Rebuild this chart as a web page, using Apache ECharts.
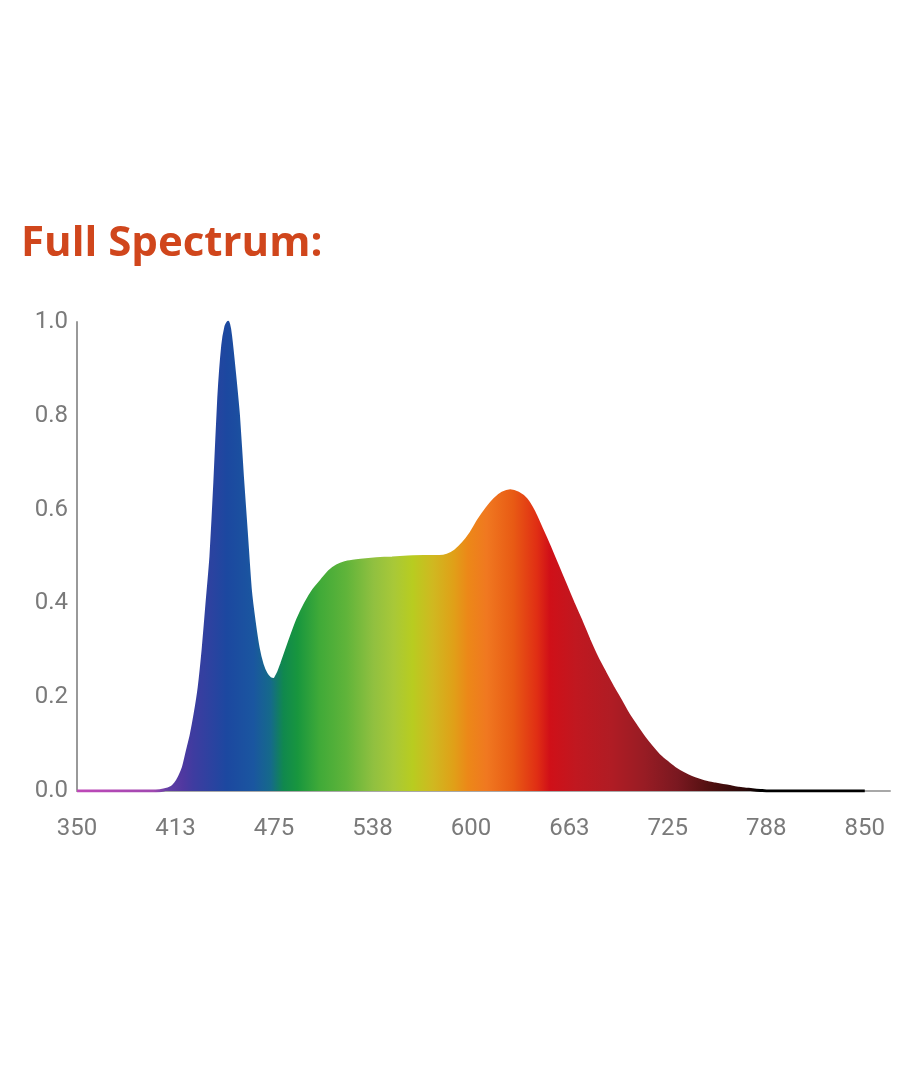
<!DOCTYPE html>
<html>
<head>
<meta charset="utf-8">
<script src="https://cdn.jsdelivr.net/npm/echarts@6/dist/echarts.min.js"></script>
<style>
html,body{margin:0;padding:0;background:#fff;}
#c{width:910px;height:1080px;}
</style>
</head>
<body>
<div id="c"></div>
<script>
// wavelength (nm) and relative intensity
const wavelengths = [350,360,370,380,390,400,405,410,412.5,415,417.5,420,422.5,425,427.5,430,432.5,435,437.5,440,442.5,444.5,446,447.5,450,452.5,455,457.5,460,462.5,465,467.5,470,472.5,475,477.5,480,485,490,495,500,505,510,515,520,525,530,540,550,560,570,580,585,590,595,600,605,610,615,620,625,630,635,640,645,650,655,660,665,670,675,680,685,690,695,700,705,710,715,720,725,730,735,740,745,750,755,760,765,770,775,780,785,790,800,820,850];
const intensity  = [0,0,0,0,0,0,0.002,0.008,0.016,0.03,0.05,0.085,0.12,0.165,0.22,0.30,0.40,0.50,0.66,0.84,0.95,0.99,1.0,0.97,0.89,0.80,0.67,0.55,0.43,0.36,0.305,0.27,0.25,0.24,0.238,0.25,0.272,0.32,0.365,0.40,0.428,0.448,0.468,0.48,0.487,0.49,0.492,0.495,0.497,0.499,0.50,0.50,0.503,0.512,0.528,0.55,0.578,0.602,0.622,0.635,0.64,0.635,0.622,0.595,0.558,0.52,0.48,0.44,0.40,0.362,0.322,0.285,0.253,0.222,0.193,0.163,0.138,0.114,0.093,0.074,0.06,0.047,0.037,0.029,0.023,0.018,0.015,0.012,0.009,0.006,0.004,0.002,0.001,0,0,0,0];
const xTickLabels = ['350','413','475','538','600','663','725','788','850'];
const yTickLabels = ['0.0','0.2','0.4','0.6','0.8','1.0'];
// spectrum colour stops (wavelength, colour)
const stopNm     = [350,400,409,417,424,445,462,473,481,490,504,521,538,551,563,576,589,598,610,627,642,650,667,689,710,731,752,773,782,850];
const stopColors = ['#c048b8','#a048b0','#603ea4','#5038a0','#3e3ca0','#1c48a0','#1a56a0','#156a8a','#10884e','#18963e','#40aa38','#60b43a','#90c040','#a8c838','#b8cc20','#d0b820','#e0a018','#ec8818','#f07820','#e85a14','#e02e14','#d01018','#c01820','#b01c24','#981c24','#7a1820','#501010','#2a0808','#000000','#000000'];

const seriesData = wavelengths.map((w,i)=>[w,intensity[i]]);
const xMin = 350, xMax = 850;
const grad = () => new echarts.graphic.LinearGradient(0,0,1,0,
  stopNm.map((w,i)=>({offset:(w-xMin)/(xMax-xMin), color:stopColors[i]})));

const chart = echarts.init(document.getElementById('c'), null, {renderer:'canvas'});
chart.setOption({
  animation:false,
  backgroundColor:'#ffffff',
  title:{
    text:'Full Spectrum:',
    left:16, top:218,
    textStyle:{fontFamily:'Open Sans', fontWeight:'bold', fontSize:42, color:'#d0461c'}
  },
  grid:{left:77, right:20, top:322, bottom:289, containLabel:false},
  xAxis:{
    type:'value', min:350, max:866, interval:62.5,
    axisLine:{show:true, lineStyle:{color:'#a8a8a8', width:2}},
    axisTick:{show:false},
    splitLine:{show:false},
    axisLabel:{
      color:'#7a7a7a', fontFamily:'Roboto', fontSize:24, margin:26,
      formatter:(v)=>{ if (v>851) return ''; const k=Math.round((v-350)/62.5); return xTickLabels[k]||''; }
    }
  },
  yAxis:{
    type:'value', min:0, max:1, interval:0.2,
    axisLine:{show:true, lineStyle:{color:'#999999', width:2}},
    axisTick:{show:false},
    splitLine:{show:false},
    axisLabel:{
      color:'#7a7a7a', fontFamily:'Roboto', fontSize:24, margin:9,
      formatter:(v)=>yTickLabels[Math.round(v/0.2)]
    }
  },
  series:[{
    type:'line',
    data:seriesData,
    smooth:0.2,
    symbol:'none',
    lineStyle:{width:3, color:grad()},
    areaStyle:{color:grad(), opacity:1},
    z:3
  }]
});
</script>
</body>
</html>
